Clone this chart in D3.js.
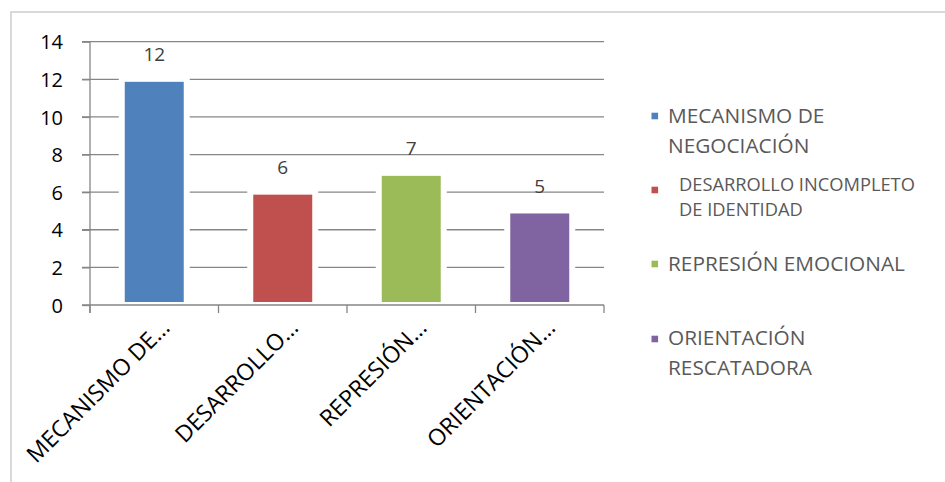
<!DOCTYPE html>
<html>
<head>
<meta charset="utf-8">
<script src="https://cdn.jsdelivr.net/npm/d3@7"></script>
<style>
  html, body { margin: 0; padding: 0; background: #fff; }
  svg { display: block; font-family: "Open Sans", sans-serif; }
</style>
</head>
<body>
<svg id="chart" width="945" height="482"></svg>
<script>
// Category labels (truncated on the axis, full in the legend)
const categories = ["MECANISMO DE NEGOCIACIÓN", "DESARROLLO INCOMPLETO DE IDENTIDAD", "REPRESIÓN EMOCIONAL", "ORIENTACIÓN RESCATADORA"];
const axisLabels = ["MECANISMO DE…", "DESARROLLO…", "REPRESIÓN…", "ORIENTACIÓN…"];
const values = [12, 6, 7, 5];
const colors = ["#4F81BD", "#C0504D", "#9BBB59", "#8064A2"];
const yTicks = [0, 2, 4, 6, 8, 10, 12, 14];
const legendLines = [["MECANISMO DE", "NEGOCIACIÓN"], ["DESARROLLO INCOMPLETO", "DE IDENTIDAD"], ["REPRESIÓN EMOCIONAL"], ["ORIENTACIÓN", "RESCATADORA"]];

const svg = d3.select("#chart");
const plot = { left: 90, right: 604, top: 41.7, bottom: 305 };

const x = d3.scaleBand().domain(categories).range([plot.left, plot.right]).paddingInner(0.541).paddingOuter(0.2705);
const xTicks = d3.scaleBand().domain(categories).range([plot.left, plot.right]);
const y = d3.scaleLinear().domain([0, 14]).range([plot.bottom, plot.top]);

const gridColor = "#868686";

// outer chart frame
svg.append("path").attr("d", "M11,482 V12 H945").attr("fill", "none").attr("stroke", "#d9d9d9").attr("stroke-width", 2);

// horizontal gridlines with left tick stubs
svg.append("g").selectAll("line").data(yTicks.filter(t => t > 0)).join("line")
  .attr("x1", plot.left - 8).attr("x2", plot.right)
  .attr("y1", d => y(d)).attr("y2", d => y(d))
  .attr("stroke", gridColor).attr("stroke-width", 1.3);

// bars: white halo behind coloured fill
const bars = svg.append("g");
bars.selectAll("rect.halo").data(values).join("rect").attr("class", "halo")
  .attr("x", (d, i) => x(categories[i]) - 6)
  .attr("width", x.bandwidth() + 12)
  .attr("y", d => y(d) - 3)
  .attr("height", d => y(0) - y(d) + 3)
  .attr("fill", "#fff");
bars.selectAll("rect.bar").data(values).join("rect").attr("class", "bar")
  .attr("x", (d, i) => x(categories[i]))
  .attr("width", x.bandwidth())
  .attr("y", d => y(d) + 2.5)
  .attr("height", d => y(0) - y(d) - 5.5)
  .attr("fill", (d, i) => colors[i]);

// value labels
svg.append("g").selectAll("text").data(values).join("text")
  .attr("x", (d, i) => x(categories[i]) + x.bandwidth() / 2)
  .attr("y", d => y(d) - 18)
  .attr("text-anchor", "middle")
  .attr("font-size", 19).attr("fill", "#404040")
  .text(d => d);

// y axis
const yAxis = svg.append("g").attr("transform", `translate(${plot.left},0)`)
  .call(d3.axisLeft(y).tickValues(yTicks).tickSize(8).tickPadding(19));
yAxis.select(".domain").remove();
yAxis.selectAll(".tick line").attr("stroke", gridColor).attr("stroke-width", 1.3);
yAxis.selectAll(".tick text").attr("font-size", 20).attr("fill", "#000").attr("font-family", "Open Sans, sans-serif").attr("dy", "0.36em");
yAxis.append("line").attr("x1", 0).attr("x2", 0).attr("y1", plot.top).attr("y2", plot.bottom + 8)
  .attr("stroke", gridColor).attr("stroke-width", 1.3);

// x axis
const xAxis = svg.append("g").attr("transform", `translate(0,${plot.bottom})`);
xAxis.append("line").attr("x1", plot.left - 8).attr("x2", plot.right).attr("y1", 0).attr("y2", 0)
  .attr("stroke", gridColor).attr("stroke-width", 1.3);
const tickPos = categories.map(c => xTicks(c)).concat([plot.right]);
xAxis.selectAll("line.tk").data(tickPos).join("line").attr("class", "tk")
  .attr("x1", d => d).attr("x2", d => d).attr("y1", 0).attr("y2", 8)
  .attr("stroke", gridColor).attr("stroke-width", 1.3);
xAxis.selectAll("text").data(axisLabels).join("text")
  .attr("transform", (d, i) => `translate(${xTicks(categories[i]) + xTicks.bandwidth() / 2 + 17},24) rotate(-45)`)
  .attr("text-anchor", "end")
  .attr("font-size", 23).attr("fill", "#000")
  .text(d => d);

// legend
const legendItems = [
  { sq: 116, x: 668, base: 123.3, lh: 29.4, fs: 20.8 },
  { sq: 190, x: 679, base: 190.7, lh: 25.3, fs: 18.3 },
  { sq: 264, x: 668, base: 271, lh: 29.4, fs: 20.8 },
  { sq: 339, x: 668, base: 345.3, lh: 29.7, fs: 20.8 }
];
const legend = svg.append("g");
legendItems.forEach((it, i) => {
  legend.append("rect").attr("x", 651.5).attr("y", it.sq - 3.3).attr("width", 6.6).attr("height", 6.6).attr("fill", colors[i]);
  const t = legend.append("text").attr("font-size", it.fs).attr("fill", "#595959");
  legendLines[i].forEach((ln, j) => {
    t.append("tspan").attr("x", it.x).attr("y", it.base + j * it.lh).text(ln);
  });
});
</script>
</body>
</html>
